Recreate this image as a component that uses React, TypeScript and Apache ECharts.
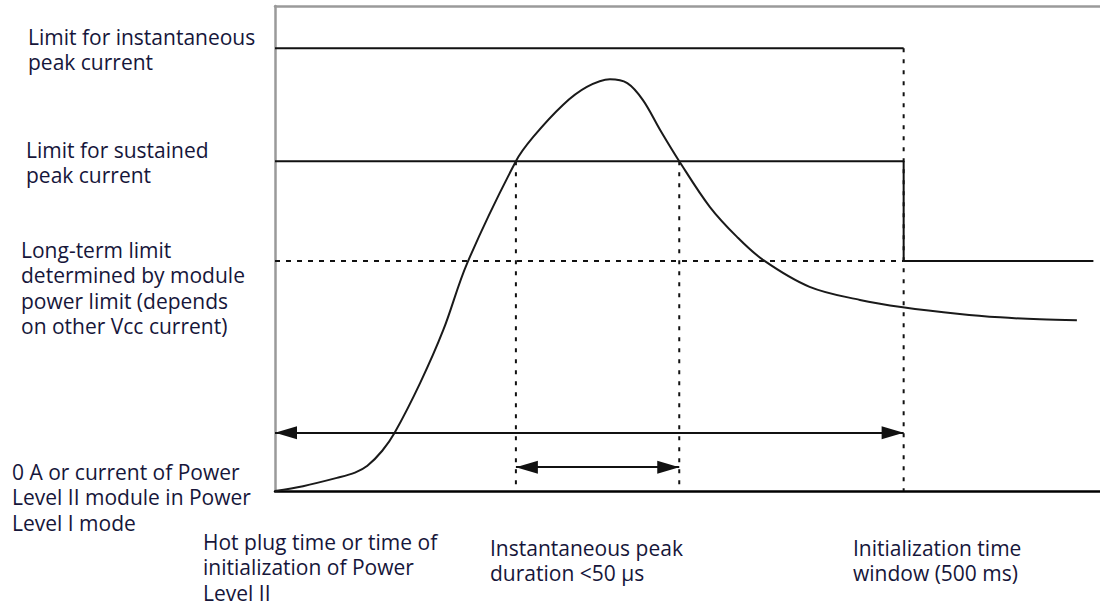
import React, { useEffect, useRef } from "react";
import * as echarts from "echarts";

// Schematic current-vs-time diagram (arbitrary units: x 0..100 time, y 0..100 current)
const curveX = [0, 3.4, 7.5, 9.7, 11.2, 13.0, 14.5, 17.6, 20.4, 23.3, 29.2, 31.3, 34.9, 37.8, 40.6, 42.7, 44.6, 46.7, 49.0, 52.7, 56.0, 59.2, 64.8, 70.9, 76.1, 83.0, 87.9, 92.7, 97.2];
const curveY = [0, 1.0, 2.7, 3.8, 5.2, 8.3, 12.0, 22.3, 33.2, 47.0, 68.0, 73.0, 79.6, 83.3, 84.9, 84.1, 80.6, 74.4, 68.0, 58.6, 52.4, 47.6, 42.1, 39.4, 37.9, 36.5, 35.8, 35.4, 35.2];

const limitLevels = [91.3, 68.0, 47.4]; // instantaneous, sustained, long-term
const timeMarks = [29.2, 49.0, 76.2]; // peak start, peak end, init window end
const longTermEnd = [99.2];
const arrowLevels = [12.0, 4.9]; // init window arrow, peak duration arrow

const labelTexts = [
  "Limit for instantaneous\npeak current",
  "Limit for sustained\npeak current",
  "Long-term limit\ndetermined by module\npower limit (depends\non other Vcc current)",
  "0 A or current of Power\nLevel II module in Power\nLevel I mode",
  "Hot plug time or time of\ninitialization of Power\nLevel II",
  "Instantaneous peak\nduration <50 \u00b5s",
  "Initialization time\nwindow (500 ms)",
];

export default function App() {
  const ref = useRef<HTMLDivElement>(null);
  useEffect(() => {
    if (!ref.current) return;
    const chart = echarts.init(ref.current, null, { renderer: "svg" });
    const [inst, sust, longT] = limitLevels;
    const [t1, t2, t3] = timeMarks;
    const black = "#111";
    const lineW = 2;
    const solid = (name: string, data: number[][], color = black) => ({
      type: "line",
      name,
      data,
      symbol: "none",
      silent: true,
      lineStyle: { color, width: lineW },
      z: 3,
    });
    const dotted = (name: string, data: number[][], dash: number[]) => ({
      type: "line",
      name,
      data,
      symbol: "none",
      silent: true,
      lineStyle: { color: black, width: 2, type: dash },
      z: 2,
    });

    const labelPos = [
      [28, 24],
      [26, 137],
      [21, 237],
      [12, 459],
      [203, 529],
      [490, 535],
      [853, 535],
    ];
    const font = '21px "Open Sans"';

    chart.setOption({
      animation: false,
      grid: { left: 275, right: 0, top: 6, bottom: 116, containLabel: false },
      xAxis: [
        {
          type: "value",
          min: 0,
          max: 100,
          position: "bottom",
          axisLine: { show: true, lineStyle: { color: "#000", width: 2.5 } },
          axisTick: { show: false },
          axisLabel: { show: false },
          splitLine: { show: false },
        },
        {
          type: "value",
          min: 0,
          max: 100,
          position: "top",
          axisLine: { show: true, lineStyle: { color: "#9a9a9a", width: 2.5 } },
          axisTick: { show: false },
          axisLabel: { show: false },
          splitLine: { show: false },
        },
      ],
      yAxis: {
        type: "value",
        min: 0,
        max: 100,
        axisLine: { show: true, lineStyle: { color: "#9a9a9a", width: 2.5 } },
        axisTick: { show: false },
        axisLabel: { show: false },
        splitLine: { show: false },
      },
      series: [
        {
          type: "line",
          name: "current",
          data: curveX.map((x, i) => [x, curveY[i]]),
          smooth: 0.35,
          symbol: "none",
          silent: true,
          lineStyle: { color: "#1a1a1a", width: 2 },
          z: 4,
          markLine: {
            silent: true,
            symbol: ["triangle", "triangle"],
            symbolSize: [13, 22],
            symbolOffset: [
              [0, 11],
              [0, 11],
            ],
            label: { show: false },
            lineStyle: { color: black, width: 2, type: "solid" },
            data: [
              [{ coord: [0, arrowLevels[0]] }, { coord: [t3, arrowLevels[0]] }],
              [{ coord: [t1, arrowLevels[1]] }, { coord: [t2, arrowLevels[1]] }],
            ],
          },
        },
        solid("instantaneous", [[0, inst], [t3, inst]]),
        solid("sustained", [[0, sust], [t3, sust], [t3, longT], [longTermEnd[0], longT]]),
        dotted("longterm", [[0, longT], [t3, longT]], [5, 6]),
        dotted("v1", [[t1, sust], [t1, 0]], [4, 7]),
        dotted("v2", [[t2, sust], [t2, 0]], [4, 7]),
        dotted("v3", [[t3, inst], [t3, 0]], [4, 7]),
      ],
      graphic: labelTexts.map((t, i) => ({
        type: "text",
        x: labelPos[i][0],
        y: labelPos[i][1],
        silent: true,
        style: {
          text: t,
          font,
          fill: "#16163a",
          lineHeight: 25.5,
          verticalAlign: "top",
          align: "left",
        },
      })),
    });
    return () => chart.dispose();
  }, []);
  return (
    <div
      ref={ref}
      style={{ position: "absolute", left: 0, top: 0, width: 1100, height: 607, background: "#fff" }}
    />
  );
}
